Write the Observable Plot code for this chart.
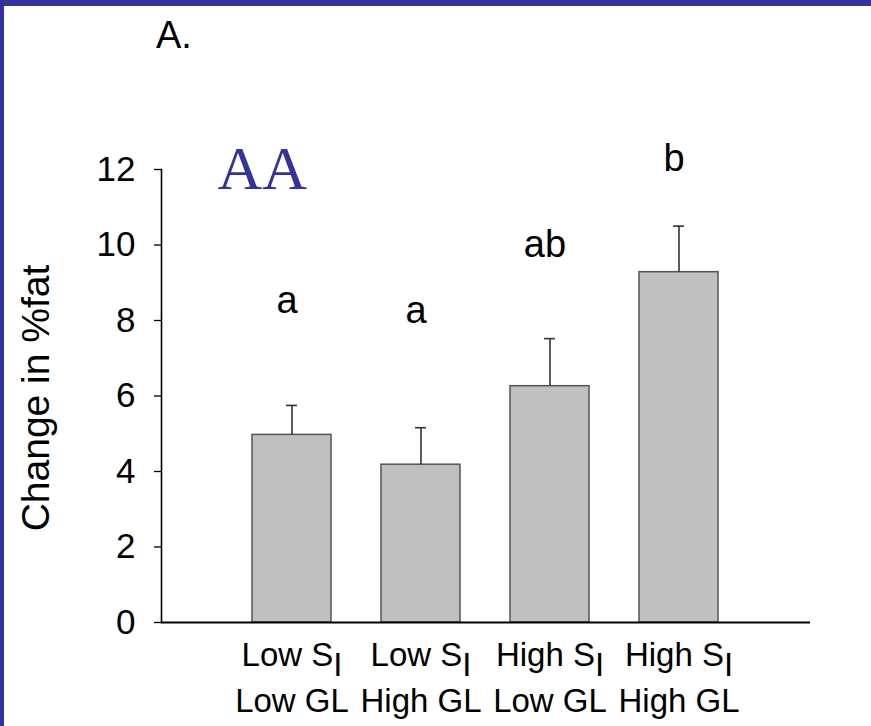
<!DOCTYPE html>
<html><head><meta charset="utf-8">
<script src="https://cdn.jsdelivr.net/npm/d3@7"></script>
<script src="https://cdn.jsdelivr.net/npm/@observablehq/plot@0.6"></script>
<style>
html,body{margin:0;padding:0;background:#fff;overflow:hidden;}
#wrap{position:relative;width:871px;height:726px;}
#topbar{position:absolute;left:0;top:0;width:871px;height:6px;background:#333399;z-index:2}
#leftbar{position:absolute;left:0;top:0;width:4px;height:726px;background:#333399;z-index:2}
#panel{position:absolute;left:156px;top:16px;font:38px "Liberation Sans",Arial,sans-serif;color:#000;z-index:2;line-height:1}
#chart{position:absolute;left:0;top:0}
</style></head>
<body><div id="wrap"><div id="chart"></div><div id="topbar"></div><div id="leftbar"></div><div id="panel">A.</div></div>
<script>
// Categories (x), line 1 (with subscript I) and line 2 of each tick label
const categories = ["LowSI-LowGL", "LowSI-HighGL", "HighSI-LowGL", "HighSI-HighGL"];
const labelLine1 = ["Low S_I", "Low S_I", "High S_I", "High S_I"];
const labelLine2 = ["Low GL", "High GL", "Low GL", "High GL"];
// Mean change in %fat and standard error (upper error bar)
const means = [4.97, 4.18, 6.26, 9.28];
const errors = [0.78, 0.98, 1.26, 1.22];
// Significance letters and the height they sit at
const letters = ["a", "a", "ab", "b"];
const letterY = [8.52, 8.25, 10.0, 12.29];
const yTicks = [0, 2, 4, 6, 8, 10, 12];
const yLabel = "Change in %fat";
const annotation = "AA";

const data = categories.map((c, i) => ({
  cat: c, mean: means[i], top: means[i] + errors[i],
  l1: labelLine1[i], l2: labelLine2[i], letter: letters[i], ly: letterY[i]
}));

const font = '"Liberation Sans", Arial, sans-serif';

const plot = Plot.plot({
  width: 871,
  height: 726,
  marginLeft: 161,
  marginRight: 61,
  marginTop: 169,
  marginBottom: 104,
  style: {background: "transparent", fontFamily: font, fontSize: "35px", color: "#000", overflow: "visible"},
  x: {domain: categories, paddingInner: 0.385, paddingOuter: 0.69, axis: null},
  y: {domain: [0, 12], axis: null},
  marks: [
    Plot.barY(data, {x: "cat", y: "mean", fill: "#c0c0c0", stroke: "#555", strokeWidth: 1.5}),
    Plot.ruleX(data, {x: "cat", y1: "mean", y2: "top", stroke: "#333", strokeWidth: 1.6}),
    Plot.tickY(data, {x: "cat", y: "top", stroke: "#333", strokeWidth: 1.6, insetLeft: 34, insetRight: 34}),
    Plot.axisY({ticks: yTicks, tickSize: 7, tickPadding: 19, label: null, stroke: "#000", strokeWidth: 1.3, fontSize: 35, tickFormat: d => String(d)}),
    Plot.frame({anchor: "left", stroke: "#000", strokeWidth: 1.6}),
    Plot.ruleY([0], {stroke: "#000", strokeWidth: 2.2}),
    Plot.text(data, {x: "cat", frameAnchor: "bottom", lineAnchor: "middle", text: "l1", dy: 33, fontSize: 33, fill: "#000"}),
    Plot.text(data, {x: "cat", frameAnchor: "bottom", lineAnchor: "middle", text: "l2", dy: 79, fontSize: 33, fill: "#000"}),
    Plot.text(data, {x: "cat", y: "ly", text: "letter", dx: -5, fontSize: 38, fill: "#000"}),
    Plot.text([yLabel], {text: d => d, frameAnchor: "left", textAnchor: "middle", lineAnchor: "middle", rotate: -90, dx: -125, dy: 2, fontSize: 39, fill: "#000"}),
    Plot.text([annotation], {text: d => d, frameAnchor: "top-left", textAnchor: "start", lineAnchor: "middle", dx: 56, dy: 0, fontSize: 62, fontFamily: '"Liberation Serif", "Times New Roman", serif', fill: "#333399"})
  ]
});

// turn "S_I" into S with a lowered I
plot.querySelectorAll("text").forEach(t => {
  const s = t.textContent;
  if (s.includes("_I")) {
    const base = s.replace("_I", "");
    while (t.firstChild) t.removeChild(t.firstChild);
    const ns = "http://www.w3.org/2000/svg";
    const a = document.createElementNS(ns, "tspan");
    a.textContent = base;
    const b = document.createElementNS(ns, "tspan");
    b.setAttribute("dy", "10");
    b.textContent = "I";
    t.appendChild(a); t.appendChild(b);
  }
});

document.getElementById("chart").appendChild(plot);
</script>
</body></html>
